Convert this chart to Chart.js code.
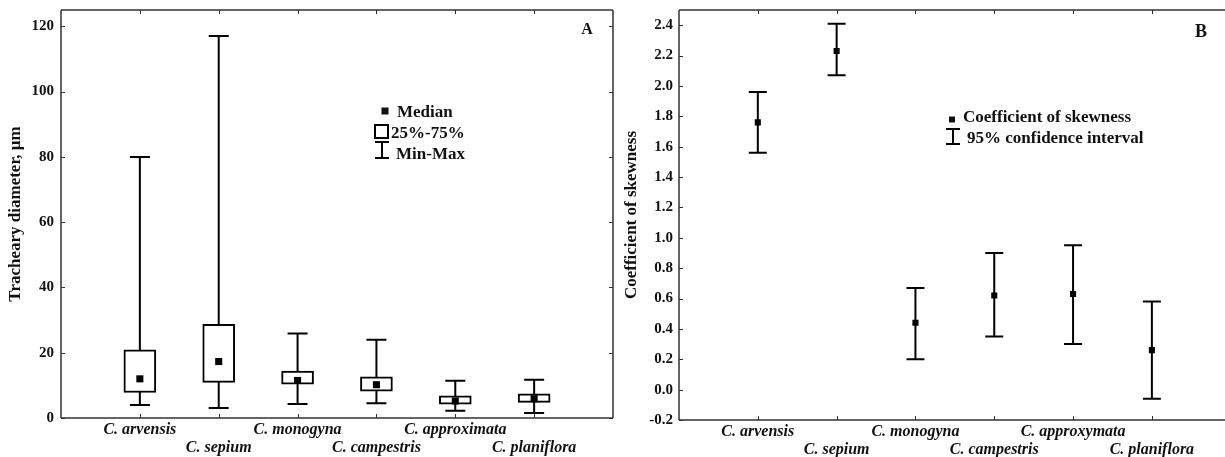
<!DOCTYPE html>
<html>
<head>
<meta charset="utf-8">
<script src="https://cdn.jsdelivr.net/npm/chart.js@4/dist/chart.umd.min.js"></script>
<style>
    html, body { margin: 0; padding: 0; background: #fff; overflow: hidden; }
    #wrap { position: relative; width: 1225px; height: 457px; overflow: hidden; }
    canvas { position: absolute; top: 0; }
    #chartA { left: 0; }
    #chartB { left: 620px; }
</style>
</head>
<body>
<div id="wrap">
    <canvas id="chartA" width="620" height="457"></canvas>
    <canvas id="chartB" width="615" height="457"></canvas>
</div>
<script>
// Species, placed at x = 1..6
const speciesA = ['C. arvensis', 'C. sepium', 'C. monogyna', 'C. campestris', 'C. approximata', 'C. planiflora'];
const speciesB = ['C. arvensis', 'C. sepium', 'C. monogyna', 'C. campestris', 'C. approxymata', 'C. planiflora'];

// Panel A - tracheary diameter, µm
const diamMin = [4.0, 3.1, 4.3, 4.5, 2.2, 1.5];
const diamQ1 = [7.8, 10.9, 10.4, 8.2, 4.2, 4.8];
const diamMedian = [12.0, 17.3, 11.5, 10.2, 5.2, 5.9];
const diamQ3 = [20.9, 28.7, 14.4, 12.6, 6.8, 7.4];
const diamMax = [80, 117, 25.9, 24.0, 11.4, 11.7];
const diamTicks = [0, 20, 40, 60, 80, 100, 120];

// Panel B - coefficient of skewness with 95% CI
const skew = [1.76, 2.23, 0.44, 0.62, 0.63, 0.26];
const skewLow = [1.56, 2.07, 0.20, 0.35, 0.30, -0.06];
const skewHigh = [1.96, 2.41, 0.67, 0.90, 0.95, 0.58];
const skewTicks = [-0.2, 0.0, 0.2, 0.4, 0.6, 0.8, 1.0, 1.2, 1.4, 1.6, 1.8, 2.0, 2.2, 2.4];

const serif = "'Liberation Serif', 'Times New Roman', serif";
const ink = '#111';
const catPositions = speciesA.map((s, i) => i + 1);

// staggered labels: every second one goes on the second line
function staggered(names) {
    return (value, index) => index % 2 === 0 ? [names[index]] : ['', names[index]];
}

function xScale(names, max, height) {
    return {
        type: 'linear',
        min: 0,
        max: max,
        offset: false,
        afterBuildTicks: scale => { scale.ticks = catPositions.map(v => ({ value: v })); },
        afterFit: scale => {
            scale.height = height;
            scale.paddingLeft = 0;
            scale.paddingRight = 0;
        },
        grid: { display: false, drawTicks: false },
        border: { display: false },
        ticks: {
            autoSkip: false,
            maxRotation: 0,
            padding: 3,
            color: ink,
            font: { family: serif, size: 16, weight: 'bold', style: 'italic', lineHeight: 1.125 },
            callback: staggered(names)
        }
    };
}

function yFit(width) {
    return scale => {
        scale.width = width;
        scale.paddingTop = 0;
        scale.paddingBottom = 0;
    };
}

// frame and inward tick marks (panel B has no visible right edge)
const framePlugin = {
    id: 'frame',
    afterDraw(chart) {
        const { ctx, chartArea: a, scales } = chart;
        const right = chart.canvas.id === 'chartA';
        ctx.save();
        ctx.strokeStyle = '#333';
        ctx.lineWidth = 1.5;
        ctx.beginPath();
        ctx.moveTo(a.left, a.top);
        ctx.lineTo(a.left, a.bottom);
        ctx.moveTo(a.left, a.bottom);
        ctx.lineTo(a.right, a.bottom);
        ctx.moveTo(a.left, a.top);
        ctx.lineTo(a.right, a.top);
        if (right) {
            ctx.moveTo(a.right, a.top);
            ctx.lineTo(a.right, a.bottom);
        }
        ctx.stroke();
        ctx.lineWidth = 1;
        ctx.beginPath();
        scales.x.ticks.forEach(t => {
            const px = Math.round(scales.x.getPixelForValue(t.value)) + 0.5;
            ctx.moveTo(px, a.bottom); ctx.lineTo(px, a.bottom - 4);
            ctx.moveTo(px, a.top); ctx.lineTo(px, a.top + 4);
        });
        scales.y.ticks.forEach(t => {
            const py = Math.round(scales.y.getPixelForValue(t.value)) + 0.5;
            ctx.moveTo(a.left, py); ctx.lineTo(a.left + 4, py);
            if (right) { ctx.moveTo(a.right, py); ctx.lineTo(a.right - 4, py); }
        });
        ctx.stroke();
        ctx.restore();
    }
};

// ---------- Panel A ----------
const whiskerPlugin = {
    id: 'whiskers',
    beforeDatasetsDraw(chart) {
        const { ctx, scales: { x, y } } = chart;
        ctx.save();
        ctx.strokeStyle = '#000';
        ctx.lineWidth = 2;
        ctx.beginPath();
        catPositions.forEach((v, i) => {
            const px = x.getPixelForValue(v);
            const top = y.getPixelForValue(diamMax[i]);
            const bot = y.getPixelForValue(diamMin[i]);
            ctx.moveTo(px, top); ctx.lineTo(px, bot);
            ctx.moveTo(px - 10, top); ctx.lineTo(px + 10, top);
            ctx.moveTo(px - 10, bot); ctx.lineTo(px + 10, bot);
        });
        ctx.stroke();
        ctx.restore();
    },
    afterDraw(chart) {
        const ctx = chart.ctx;
        ctx.save();
        ctx.fillStyle = ink;
        ctx.strokeStyle = '#000';
        ctx.font = 'bold 17px ' + serif;
        ctx.textBaseline = 'alphabetic';
        // legend
        ctx.fillRect(381.5, 107.5, 7, 7);
        ctx.fillText('Median', 397, 117);
        ctx.lineWidth = 2;
        ctx.strokeRect(375, 125, 13, 13);
        ctx.fillText('25%-75%', 391, 138);
        ctx.beginPath();
        ctx.moveTo(382, 142); ctx.lineTo(382, 158);
        ctx.moveTo(375, 142); ctx.lineTo(389, 142);
        ctx.moveTo(375, 158); ctx.lineTo(389, 158);
        ctx.stroke();
        ctx.fillText('Min-Max', 396, 159);
        // panel letter
        ctx.font = 'bold 16px ' + serif;
        ctx.textAlign = 'center';
        ctx.fillText('A', 587, 34);
        ctx.restore();
    }
};

new Chart(document.getElementById('chartA'), {
    type: 'bar',
    data: {
        datasets: [
            {
                type: 'scatter',
                data: catPositions.map((v, i) => ({ x: v, y: diamMedian[i] })),
                pointStyle: 'rect',
                radius: 5,
                backgroundColor: '#000',
                borderWidth: 0,
                order: 0
            },
            {
                type: 'bar',
                data: catPositions.map((v, i) => ({ x: v, y: [diamQ1[i], diamQ3[i]] })),
                backgroundColor: '#fff',
                borderColor: '#000',
                borderWidth: 2,
                borderSkipped: false,
                barThickness: 32,
                order: 1
            }
        ]
    },
    options: {
        responsive: false,
        animation: false,
        layout: { padding: { top: 10, right: 7, left: 0, bottom: 0 } },
        plugins: { legend: { display: false }, tooltip: { enabled: false } },
        scales: {
            x: xScale(speciesA, 7, 39),
            y: {
                min: 0,
                max: 125,
                afterBuildTicks: scale => { scale.ticks = diamTicks.map(v => ({ value: v })); },
                afterFit: yFit(61),
                grid: { display: false, drawTicks: false },
                border: { display: false },
                ticks: { padding: 7, color: ink, font: { family: serif, size: 15, weight: 'bold' } },
                title: {
                    display: true,
                    text: 'Tracheary diameter, μm',
                    color: ink,
                    padding: { top: 5, bottom: 0 },
                    font: { family: serif, size: 17, weight: 'bold' }
                }
            }
        }
    },
    plugins: [whiskerPlugin, framePlugin]
});

// ---------- Panel B ----------
const errorBarPlugin = {
    id: 'errorBars',
    beforeDatasetsDraw(chart) {
        const { ctx, scales: { x, y } } = chart;
        ctx.save();
        ctx.strokeStyle = '#000';
        ctx.lineWidth = 2;
        ctx.beginPath();
        catPositions.forEach((v, i) => {
            const px = x.getPixelForValue(v);
            const top = y.getPixelForValue(skewHigh[i]);
            const bot = y.getPixelForValue(skewLow[i]);
            ctx.moveTo(px, top); ctx.lineTo(px, bot);
            ctx.moveTo(px - 9, top); ctx.lineTo(px + 9, top);
            ctx.moveTo(px - 9, bot); ctx.lineTo(px + 9, bot);
        });
        ctx.stroke();
        ctx.restore();
    },
    afterDraw(chart) {
        const ctx = chart.ctx;
        ctx.save();
        ctx.fillStyle = ink;
        ctx.strokeStyle = '#000';
        ctx.font = 'bold 17px ' + serif;
        ctx.textBaseline = 'alphabetic';
        ctx.fillRect(329, 116.5, 6, 6);
        ctx.fillText('Coefficient of skewness', 343, 122);
        ctx.lineWidth = 2;
        ctx.beginPath();
        ctx.moveTo(333, 129); ctx.lineTo(333, 144);
        ctx.moveTo(326, 129); ctx.lineTo(340, 129);
        ctx.moveTo(326, 144); ctx.lineTo(340, 144);
        ctx.stroke();
        ctx.fillText('95% confidence interval', 347, 143);
        ctx.font = 'bold 18px ' + serif;
        ctx.textAlign = 'center';
        ctx.fillText('B', 581, 37);
        ctx.restore();
    }
};

new Chart(document.getElementById('chartB'), {
    type: 'scatter',
    data: {
        datasets: [{
            data: catPositions.map((v, i) => ({ x: v, y: skew[i] })),
            pointStyle: 'rect',
            radius: 4.3,
            backgroundColor: '#000',
            borderWidth: 0
        }]
    },
    options: {
        responsive: false,
        animation: false,
        layout: { padding: { top: 10, right: 1, left: 0, bottom: 0 } },
        plugins: { legend: { display: false }, tooltip: { enabled: false } },
        scales: {
            x: xScale(speciesB, 7, 37),
            y: {
                min: -0.2,
                max: 2.5,
                afterBuildTicks: scale => { scale.ticks = skewTicks.map(v => ({ value: v })); },
                afterFit: yFit(59),
                grid: { display: false, drawTicks: false },
                border: { display: false },
                ticks: {
                    padding: 6,
                    color: ink,
                    font: { family: serif, size: 15, weight: 'bold' },
                    callback: v => v.toFixed(1)
                },
                title: {
                    display: true,
                    text: 'Coefficient of skewness',
                    color: ink,
                    padding: { top: 1, bottom: 0 },
                    font: { family: serif, size: 17, weight: 'bold' }
                }
            }
        }
    },
    plugins: [errorBarPlugin, framePlugin]
});
</script>
</body>
</html>
